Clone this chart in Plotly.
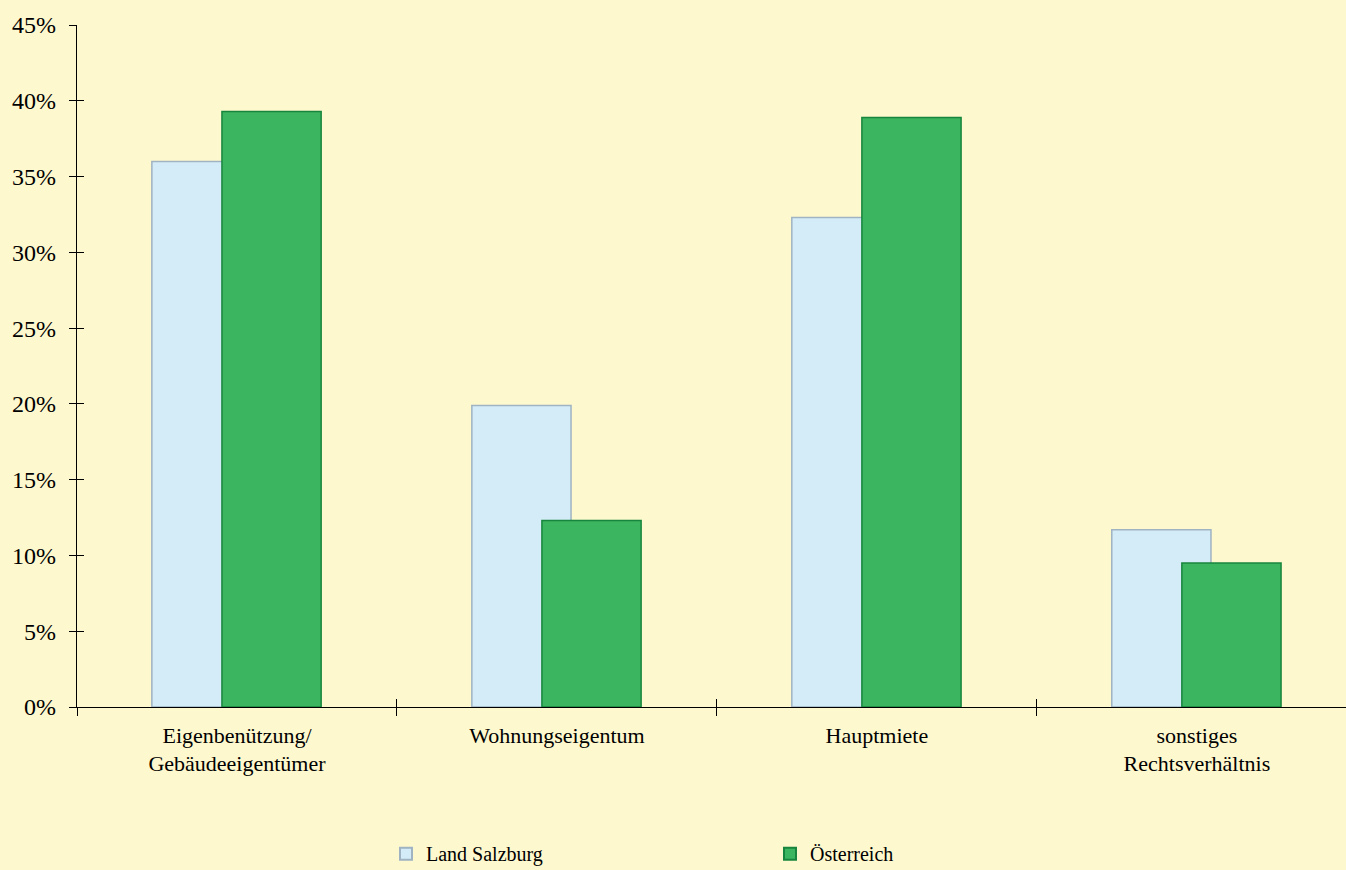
import plotly.graph_objects as go

categories = ["Eigenbenützung/<br>Gebäudeeigentümer", "Wohnungseigentum", "Hauptmiete", "sonstiges<br>Rechtsverhältnis"]
salzburg = [36.0, 19.9, 32.3, 11.7]
oesterreich = [39.3, 12.3, 38.9, 9.5]
series_names = ["Land Salzburg", "Österreich"]
y_ticks = [0, 5, 10, 15, 20, 25, 30, 35, 40, 45]
y_ticktext = [f"{v}%" for v in y_ticks]

BG = "#FEF8CE"
FONT = "Liberation Serif"

fig = go.Figure()
fig.add_trace(go.Bar(
    x=categories, y=salzburg, name=series_names[0],
    width=0.31, offset=-0.266,
    marker=dict(color="#D4ECF8", line=dict(color="#9FB3C2", width=1.5)),
))
fig.add_trace(go.Bar(
    x=categories, y=oesterreich, name=series_names[1],
    width=0.31, offset=-0.047,
    marker=dict(color="#3CB561", line=dict(color="#17853D", width=1.5)),
))

fig.update_layout(
    width=1346, height=870,
    paper_bgcolor=BG, plot_bgcolor=BG,
    barmode="overlay",
    margin=dict(l=77, r=0, t=25, b=163, autoexpand=False),
    font=dict(family=FONT, color="#000000", size=20),
    showlegend=True,
    legend=dict(
        orientation="h", x=0.2435, xanchor="left", y=-0.215, yanchor="middle",
        font=dict(family=FONT, size=20, color="#000000"),
        entrywidth=339, entrywidthmode="pixels",
        bgcolor="rgba(0,0,0,0)", itemsizing="constant",
    ),
    xaxis=dict(
        type="category", range=[-0.5, 3.466],
        showline=True, linecolor="#000000", linewidth=1.2,
        ticks="outside", ticklen=8, tickcolor="#000000", tickwidth=1,
        tickson="boundaries", showgrid=False, zeroline=False,
        ticklabelstandoff=8,
        tickfont=dict(family=FONT, size=22, color="#000000"),
    ),
    yaxis=dict(
        range=[0, 45], tickvals=y_ticks, ticktext=y_ticktext,
        showline=True, linecolor="#000000", linewidth=1.2,
        ticks="outside", ticklen=7, tickcolor="#000000", tickwidth=1,
        showgrid=False, zeroline=False, ticklabelstandoff=8,
        tickfont=dict(family=FONT, size=24, color="#000000"),
    ),
    xaxis2=dict(
        type="category", range=[-0.5, 3.466], overlaying="x", matches="x",
        side="bottom", anchor="y", showline=False,
        ticks="inside", ticklen=8, tickcolor="#000000", tickwidth=1,
        tickson="boundaries", showticklabels=False, showgrid=False, zeroline=False,
    ),
    yaxis2=dict(
        range=[0, 45], tickvals=y_ticks, overlaying="y", side="left", anchor="x",
        showline=False, ticks="inside", ticklen=7, tickcolor="#000000", tickwidth=1,
        showticklabels=False, showgrid=False, zeroline=False,
    ),
)
fig.add_trace(go.Scatter(x=categories, y=[None] * 4, xaxis="x2", yaxis="y2",
                         showlegend=False, hoverinfo="skip", mode="markers"))

fig.write_html("out.html", config={"displayModeBar": False},
               post_script="document.body.style.margin='0';document.body.style.overflow='hidden';")
